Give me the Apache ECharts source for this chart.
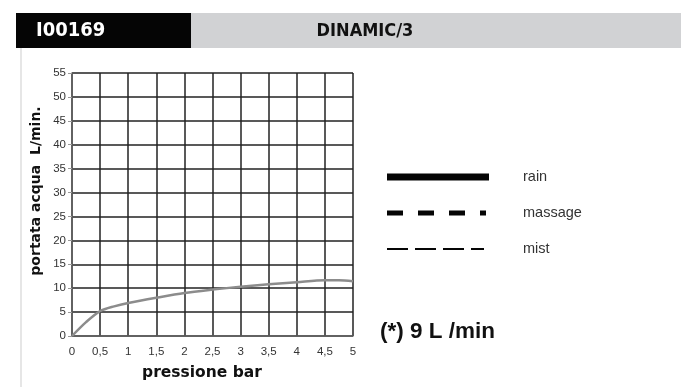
<!DOCTYPE html>
<html>
<head>
<meta charset="utf-8">
<script src="https://cdn.jsdelivr.net/npm/echarts@6/dist/echarts.min.js"></script>
<style>
html,body{margin:0;padding:0;background:#fff;}
#c{width:681px;height:387px;}
</style>
</head>
<body>
<div id="c"></div>
<script>
var pressure = [0, 0.25, 0.5, 0.75, 1, 1.5, 2, 2.5, 3, 3.5, 4, 4.5, 4.75, 5];
var flow = [0, 2.9, 5.2, 6.2, 6.9, 8.0, 9.0, 9.7, 10.3, 10.8, 11.25, 11.65, 11.65, 11.45];
var xTicks = { min: 0, max: 5, step: 0.5 };
var yTicks = { min: 0, max: 55, step: 5 };
var codeTitle = 'I00169';
var modelTitle = 'DINAMIC/3';
var legendNames = ['rain', 'massage', 'mist'];
var noteText = '(*) 9 L /min';
var xName = 'pressione bar';
var yName = 'portata acqua  L/min.';

var chart = echarts.init(document.getElementById('c'), null, {renderer: 'canvas'});
var pts = pressure.map(function (p, i) { return [p, flow[i]]; });

var option = {
  animation: false,
  backgroundColor: '#fff',
  grid: { left: 72, top: 73, width: 281, height: 263, containLabel: false },
  xAxis: {
    type: 'value', min: xTicks.min, max: xTicks.max, interval: xTicks.step,
    axisLine: { show: true, lineStyle: { color: '#666', width: 1.5 } },
    axisTick: { show: false },
    axisLabel: {
      margin: 10, color: '#333', fontSize: 11.5, fontFamily: 'Liberation Sans',
      formatter: function (v) { return String(v).replace('.', ','); }
    },
    splitLine: { show: true, lineStyle: { color: '#222', width: 1.5 } }
  },
  yAxis: {
    type: 'value', min: yTicks.min, max: yTicks.max, interval: yTicks.step,
    axisLine: { show: true, lineStyle: { color: '#666', width: 1.5 } },
    axisTick: { show: true, length: 4, lineStyle: { color: '#999' } },
    axisLabel: { margin: 6, color: '#333', fontSize: 11.5, fontFamily: 'Liberation Sans' },
    splitLine: { show: true, lineStyle: { color: '#222', width: 1.5 } }
  },
  series: [{
    type: 'line', data: pts, smooth: 0.3, symbol: 'none',
    lineStyle: { color: '#8c8c8c', width: 2.5 }
  }],
  graphic: [
    { type: 'rect', shape: { x: 191, y: 13, width: 490, height: 35 }, style: { fill: '#d1d2d4' } },
    { type: 'rect', shape: { x: 16, y: 13, width: 175, height: 35 }, style: { fill: '#050505' } },
    { type: 'rect', shape: { x: 20, y: 48, width: 2, height: 339 }, style: { fill: '#e6e6e6' } },
    { type: 'text', x: 36, y: 31, style: { text: codeTitle, fill: '#fff', font: 'bold 20px "DejaVu Sans Condensed", "DejaVu Sans"', textVerticalAlign: 'middle' } },
    { type: 'text', x: 365, y: 31, style: { text: modelTitle, fill: '#111', font: 'bold 18px "DejaVu Sans Condensed", "DejaVu Sans"', textAlign: 'center', textVerticalAlign: 'middle' } },
    { type: 'text', x: 36, y: 191, rotation: Math.PI / 2, style: { text: yName, fill: '#111', font: 'bold 14px "DejaVu Sans"', textAlign: 'center', textVerticalAlign: 'middle' } },
    { type: 'text', x: 202, y: 373, style: { text: xName, fill: '#111', font: 'bold 15.5px "DejaVu Sans"', textAlign: 'center', textVerticalAlign: 'middle' } },
    { type: 'line', shape: { x1: 387, y1: 177, x2: 489, y2: 177 }, style: { stroke: '#050505', lineWidth: 7 } },
    { type: 'line', shape: { x1: 387, y1: 213, x2: 486, y2: 213 }, style: { stroke: '#050505', lineWidth: 5, lineDash: [16, 15] } },
    { type: 'line', shape: { x1: 387, y1: 249, x2: 484, y2: 249 }, style: { stroke: '#050505', lineWidth: 2, lineDash: [21, 7] } },
    { type: 'text', x: 523, y: 177, style: { text: legendNames[0], fill: '#333', font: '14.5px "Liberation Sans"', textVerticalAlign: 'middle' } },
    { type: 'text', x: 523, y: 213, style: { text: legendNames[1], fill: '#333', font: '14.5px "Liberation Sans"', textVerticalAlign: 'middle' } },
    { type: 'text', x: 523, y: 249, style: { text: legendNames[2], fill: '#333', font: '14.5px "Liberation Sans"', textVerticalAlign: 'middle' } },
    { type: 'text', x: 380, y: 332, style: { text: noteText, fill: '#111', font: 'bold 22.5px "Liberation Sans"', textVerticalAlign: 'middle' } }
  ]
};
chart.setOption(option);
</script>
</body>
</html>
